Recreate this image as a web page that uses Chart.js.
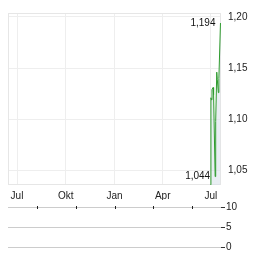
<!DOCTYPE html>
<html>
<head>
<meta charset="utf-8">
<script src="https://cdn.jsdelivr.net/npm/chart.js@4/dist/chart.umd.min.js"></script>
<style>
  body { margin: 0; background: #fff; }
  #wrap { position: relative; width: 264px; height: 255px; }
  canvas { position: absolute; left: 0; }
  #priceChart { top: 0; }
  #volChart { top: 200px; }
</style>
</head>
<body>
<div id="wrap">
  <canvas id="priceChart" width="264" height="200"></canvas>
  <canvas id="volChart" width="264" height="55"></canvas>
</div>
<script>
// days counted from 1 Jul of the previous year
const tickDays = [0, 92, 184, 275, 366];
const tickLabels = ["Jul", "Okt", "Jan", "Apr", "Jul"];
const priceTicks = [1.05, 1.10, 1.15, 1.20];
const volTicks = [0, 5, 10];

const days = [365, 366, 367, 368, 370, 371, 374, 375, 377, 378, 380, 381, 384];
const prices = [1.036, 1.121, 1.119, 1.129, 1.131, 1.124, 1.044, 1.098, 1.146, 1.139, 1.126, 1.140, 1.194];
const volumes = [0, 0, 0, 0, 0, 0, 0, 0, 0, 0, 0, 0, 0];

const FONT = "'Liberation Sans', Arial, sans-serif";
const fmt = v => v.toFixed(2).replace(".", ",");

// frame round the price plot area
const framePlugin = {
  id: "frame",
  beforeDatasetsDraw(chart) {
    const a = chart.chartArea, ctx = chart.ctx;
    ctx.save();
    ctx.strokeStyle = "#e6e6e6";
    ctx.lineWidth = 1;
    ctx.strokeRect(Math.round(a.left) + 0.5, Math.round(a.top) + 0.5,
      Math.round(a.right - a.left) - 1, Math.round(a.bottom - a.top) - 1);
    ctx.restore();
  }
};

// high / low labels (first tick is the opening print, skipped)
const hiLoPlugin = {
  id: "hilo",
  afterDatasetsDraw(chart) {
    const xs = chart.scales.x, ys = chart.scales.y, ctx = chart.ctx;
    let hi = 1, lo = 1;
    for (let i = 1; i < prices.length; i++) {
      if (prices[i] > prices[hi]) hi = i;
      if (prices[i] < prices[lo]) lo = i;
    }
    ctx.save();
    ctx.font = "10px " + FONT;
    ctx.fillStyle = "#111";
    ctx.textAlign = "right";
    ctx.textBaseline = "middle";
    [hi, lo].forEach(i => {
      const x = xs.getPixelForValue(days[i]);
      const y = ys.getPixelForValue(prices[i]);
      ctx.fillText(prices[i].toFixed(3).replace(".", ","), x - 5, y);
    });
    ctx.restore();
  }
};

new Chart(document.getElementById("priceChart"), {
  type: "line",
  data: {
    datasets: [{
      data: days.map((d, i) => ({ x: d, y: prices[i] })),
      borderColor: "#2e9b2e",
      borderWidth: 1,
      backgroundColor: "rgba(215,224,233,0.55)",
      fill: "start",
      pointRadius: 0,
      tension: 0
    }]
  },
  options: {
    responsive: false,
    animation: false,
    devicePixelRatio: 1,
    layout: { padding: { left: 8, top: 7, right: 0, bottom: 0 } },
    plugins: { legend: { display: false }, tooltip: { enabled: false } },
    scales: {
      x: {
        type: "linear",
        min: -17,
        max: 385,
        afterBuildTicks: axis => { axis.ticks = tickDays.map(v => ({ value: v })); },
        afterFit: axis => { axis.height = 15; },
        grid: { color: "#eeeeee", drawTicks: false },
        border: { display: false },
        ticks: {
          autoSkip: false,
          maxRotation: 0,
          padding: 5,
          color: "#222",
          font: { family: FONT, size: 10 },
          callback: (v, i) => tickLabels[i]
        }
      },
      y: {
        position: "right",
        min: 1.0358,
        max: 1.2038,
        afterBuildTicks: axis => { axis.ticks = priceTicks.map(v => ({ value: v })); },
        afterFit: axis => { axis.width = 43; },
        grid: { color: "#eeeeee", drawTicks: false },
        border: { display: false },
        ticks: {
          padding: 7,
          color: "#222",
          font: { family: FONT, size: 10 },
          callback: v => fmt(v)
        }
      }
    }
  },
  plugins: [framePlugin, hiLoPlugin]
});

// short date ticks on the top line of the volume panel
const volTickPlugin = {
  id: "volticks",
  afterDraw(chart) {
    const xs = chart.scales.x, a = chart.chartArea, ctx = chart.ctx;
    ctx.save();
    ctx.strokeStyle = "#222";
    ctx.lineWidth = 1;
    tickDays.forEach(d => {
      const x = Math.round(xs.getPixelForValue(d)) + 0.5;
      ctx.beginPath();
      ctx.moveTo(x, a.top - 1);
      ctx.lineTo(x, a.top + 2);
      ctx.stroke();
    });
    ctx.restore();
  }
};

// only days with traded volume get a bar (none in this picture)
const volPoints = days.map((d, i) => ({ x: d, y: volumes[i] })).filter(p => p.y > 0);

new Chart(document.getElementById("volChart"), {
  type: "bar",
  data: {
    datasets: [{
      data: volPoints,
      backgroundColor: "#2e9b2e",
      barThickness: 1
    }]
  },
  options: {
    responsive: false,
    animation: false,
    devicePixelRatio: 1,
    layout: { padding: { left: 8, top: 7, right: 0, bottom: 8 } },
    plugins: { legend: { display: false }, tooltip: { enabled: false } },
    scales: {
      x: {
        type: "linear",
        min: -17,
        max: 385,
        display: false
      },
      y: {
        position: "right",
        min: 0,
        max: 10,
        afterBuildTicks: axis => { axis.ticks = volTicks.map(v => ({ value: v })); },
        afterFit: axis => { axis.width = 43; },
        grid: { color: "#cccccc", tickColor: "#333", tickLength: 4 },
        border: { display: false },
        ticks: {
          padding: 1,
          color: "#222",
          font: { family: FONT, size: 10 }
        }
      }
    }
  },
  plugins: [volTickPlugin]
});
</script>
</body>
</html>
